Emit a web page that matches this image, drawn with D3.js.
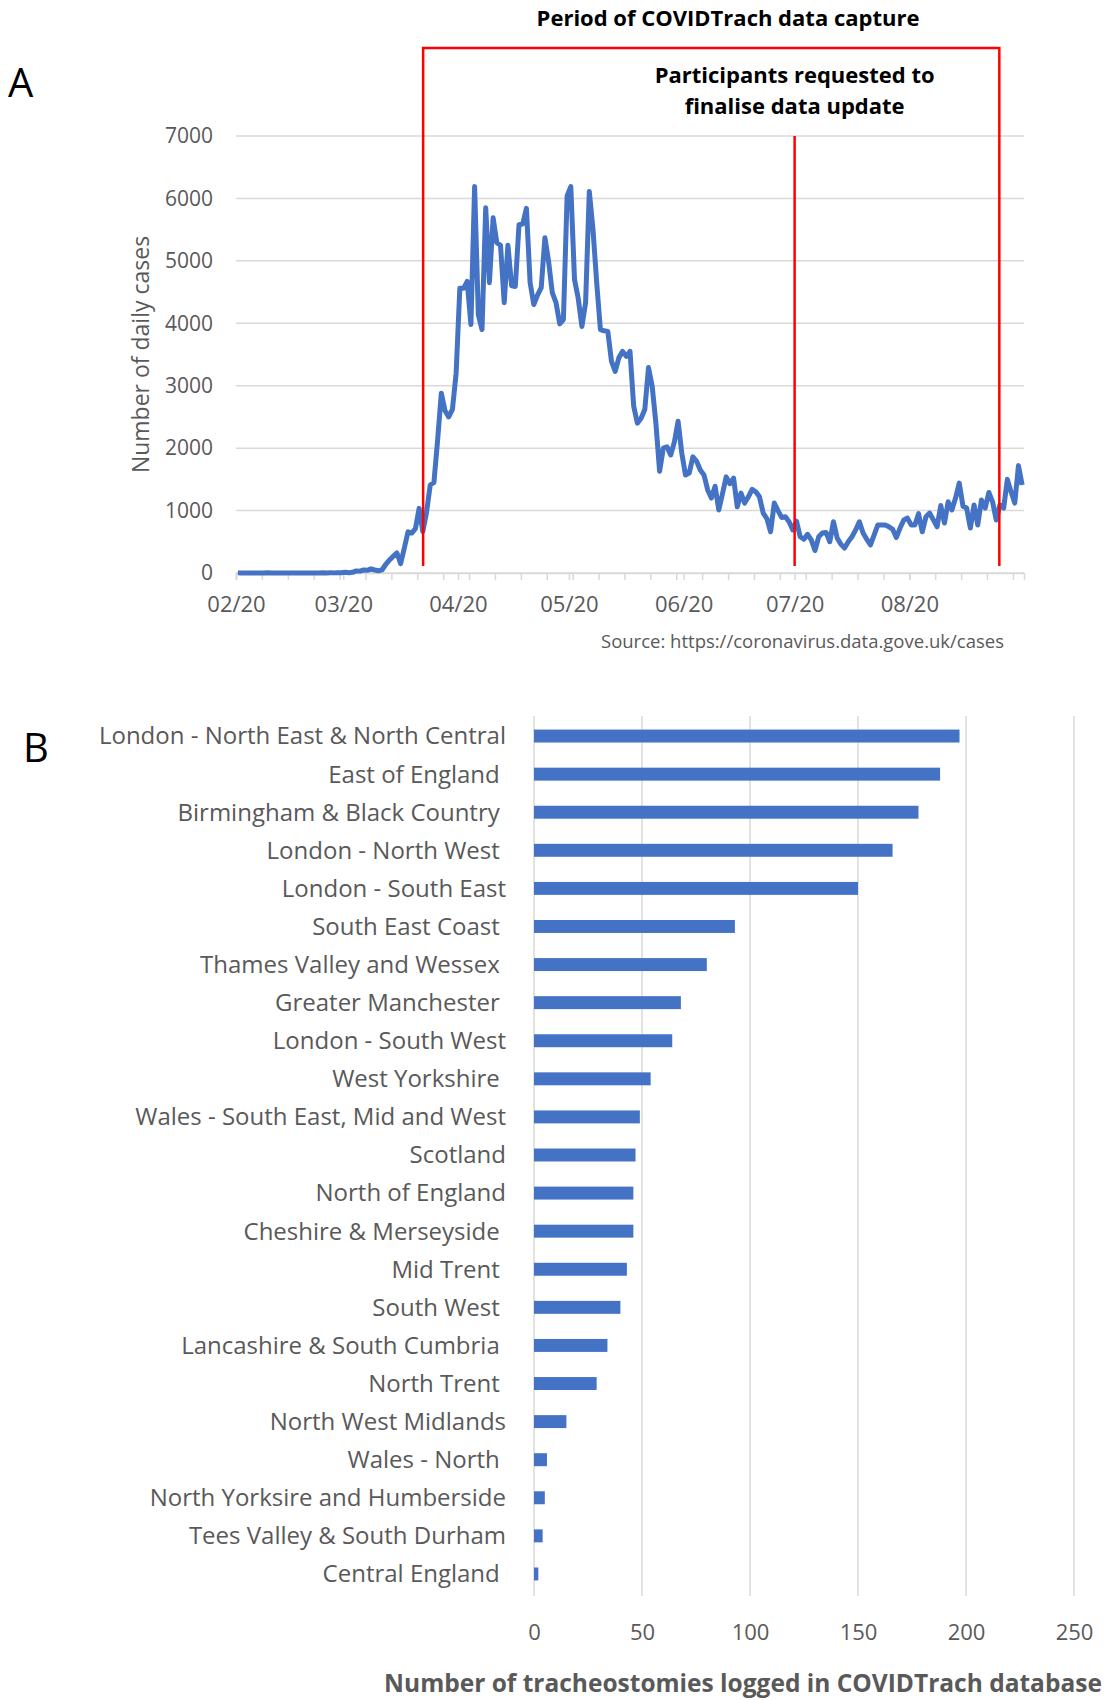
<!DOCTYPE html>
<meta charset="utf-8">
<style>
body { margin: 0; background: #fff; }
text { font-family: "Open Sans", sans-serif; fill: #595959; }
.grid line { stroke: #d9d9d9; stroke-width: 1.5px; }
.axis path, .axis line { stroke: #d9d9d9; stroke-width: 1.5px; }
.axis text { font-family: "Open Sans", sans-serif; fill: #595959; }
.panel { font-size: 40px; fill: #000; }
.note { font-weight: bold; font-size: 22px; fill: #000; text-anchor: middle; }
.marker { stroke: #ff0000; stroke-width: 2.5px; fill: none; }
.cases { fill: none; stroke: #4472c4; stroke-width: 5px; stroke-linejoin: round; }
.bar { fill: #4472c4; }
.region { font-size: 24px; text-anchor: end; white-space: pre; }
</style>
<svg width="1108" height="1700"></svg>
<script src="https://d3js.org/d3.v7.min.js"></script>
<script>

// daily cases (UK, by publish date), one value per day from 1 Feb 2020
var casesFeb = [2,0,0,0,0,1,1,0,4,0,0,0,1,0,0,0,0,0,0,0,0,0,0,4,0,4,2,5,3];
var casesMar = [13,4,11,34,30,48,43,67,48,35,52,140,210,270,320,150,400,660,640,710,1035,665,970,1410,1450,2130,2880,2600,2500,2620,3200];
var casesApr = [4560,4560,4670,3980,6190,4140,3900,5850,4650,5690,5290,5250,4330,5250,4600,4590,5580,5590,5840,4650,4300,4450,4570,5370,4990,4490,4330,3990,4060,6040];
var casesMay = [6190,4700,4400,3950,4330,6110,5500,4650,3900,3880,3870,3390,3230,3450,3550,3470,3550,2670,2400,2480,2620,3290,2990,2400,1630,2000,2020,1890,2100,2430,1920];
var casesJun = [1570,1600,1860,1790,1650,1570,1330,1200,1390,1010,1270,1540,1430,1520,1060,1280,1120,1220,1340,1300,1220,960,870,660,1120,1000,890,900,820,690];
var casesJul = [830,580,540,620,530,360,580,640,650,500,820,560,460,400,500,580,690,820,640,540,450,610,770,770,770,740,700,570,720,850,880];
var casesAug = [770,770,950,660,900,960,850,740,1080,800,1140,1010,1200,1440,1070,1040,720,1090,770,1170,1040,1290,1140,850,1090,1040,1500,1300,1120,1720,1410];

var caseTicks = [0, 1000, 2000, 3000, 4000, 5000, 6000, 7000];
// start of data capture, request to finalise, end of data capture
var markerDates = [new Date(2020, 2, 22, 14), new Date(2020, 6, 1, 0), new Date(2020, 7, 25, 8)];

var regions = [
  "London - North East & North Central",
  "East of England ",
  "Birmingham & Black Country ",
  "London - North West ",
  "London - South East",
  "South East Coast ",
  "Thames Valley and Wessex ",
  "Greater Manchester ",
  "London - South West",
  "West Yorkshire ",
  "Wales - South East, Mid and West",
  "Scotland",
  "North of England",
  "Cheshire & Merseyside ",
  "Mid Trent ",
  "South West ",
  "Lancashire & South Cumbria ",
  "North Trent ",
  "North West Midlands",
  "Wales - North ",
  "North Yorksire and Humberside",
  "Tees Valley & South Durham",
  "Central England "
];
var tracheostomies = [197,188,178,166,150,93,80,68,64,54,49,47,46,46,43,40,34,29,15,6,5,4,2];
var trachTicks = [0, 50, 100, 150, 200, 250];

var svg = d3.select("svg");

// ---------- A: daily cases ----------
var cases = [].concat(casesFeb, casesMar, casesApr, casesMay, casesJun, casesJul, casesAug)
  .map(function(v, i) { return { date: new Date(2020, 1, 1 + i, 12), value: v }; });

var x = d3.scaleTime()
    .domain([new Date(2020, 1, 1), new Date(2020, 8, 1)])
    .range([236, 1024]);
var y = d3.scaleLinear()
    .domain([0, 7000])
    .range([573, 136]);

svg.append("text").attr("class", "panel").attr("x", 8).attr("y", 97).text("A");

svg.append("g").attr("class", "grid")
  .selectAll("line")
  .data(caseTicks)
  .enter().append("line")
    .attr("x1", x.range()[0]).attr("x2", x.range()[1])
    .attr("y1", y).attr("y2", y);

// weekly minor ticks
svg.append("g").attr("class", "axis")
    .attr("transform", "translate(0," + y(0) + ")")
    .call(d3.axisBottom(x)
      .tickValues(d3.timeSaturday.range(x.domain()[0], x.domain()[1]))
      .tickSize(7).tickSizeOuter(7).tickFormat(""));

// month ticks + labels
var monthAxis = svg.append("g").attr("class", "axis")
    .attr("transform", "translate(0," + y(0) + ")")
    .call(d3.axisBottom(x)
      .tickValues(d3.timeMonth.range(x.domain()[0], x.domain()[1]))
      .tickSize(7).tickPadding(16)
      .tickFormat(d3.timeFormat("%m/%y")));
monthAxis.select(".domain").remove();
monthAxis.selectAll("text").style("font-size", "22px");

var yAxis = svg.append("g").attr("class", "axis")
    .attr("transform", "translate(" + x.range()[0] + ",0)")
    .call(d3.axisLeft(y).tickValues(caseTicks).tickFormat(d3.format("d"))
      .tickSize(0).tickPadding(23));
yAxis.select(".domain").remove();
yAxis.selectAll("text").style("font-size", "21px");

svg.append("text")
    .attr("transform", "translate(141," + (y(0) + y(7000)) / 2 + ") rotate(-90)")
    .attr("text-anchor", "middle")
    .attr("dy", "0.35em")
    .style("font-size", "23px")
    .text("Number of daily cases");

var line = d3.line()
    .x(function(d) { return x(d.date); })
    .y(function(d) { return y(d.value); });

svg.append("path")
    .datum(cases)
    .attr("class", "cases")
    .attr("d", line);

// red frame marking the capture period
var boxTop = 48, lineBottom = y(0) - 7;
svg.append("path")
    .attr("class", "marker")
    .attr("d", "M" + x(markerDates[0]) + "," + lineBottom +
               "V" + boxTop + "H" + x(markerDates[2]) + "V" + lineBottom);
svg.append("line")
    .attr("class", "marker")
    .attr("x1", x(markerDates[1])).attr("x2", x(markerDates[1]))
    .attr("y1", y(7000)).attr("y2", lineBottom);

svg.append("text").attr("class", "note").attr("x", 728).attr("y", 26)
    .text("Period of COVIDTrach data capture");
svg.append("text").attr("class", "note").attr("x", x(markerDates[1])).attr("y", 83)
    .text("Participants requested to");
svg.append("text").attr("class", "note").attr("x", x(markerDates[1])).attr("y", 114)
    .text("finalise data update");

svg.append("text")
    .attr("x", 1004).attr("y", 648)
    .attr("text-anchor", "end")
    .style("font-size", "18.5px")
    .text("Source: https://coronavirus.data.gove.uk/cases");

// ---------- B: tracheostomies by region ----------
var xb = d3.scaleLinear()
    .domain([0, 250])
    .range([534, 1074]);
var yb = d3.scaleBand()
    .domain(regions)
    .range([717, 1593])
    .paddingInner(0.66)
    .paddingOuter(0.33);

svg.append("text").attr("class", "panel").attr("x", 23).attr("y", 762).text("B");

svg.append("g").attr("class", "grid")
  .selectAll("line")
  .data(trachTicks)
  .enter().append("line")
    .attr("x1", xb).attr("x2", xb)
    .attr("y1", 716).attr("y2", 1596);

svg.append("g")
  .selectAll("rect")
  .data(tracheostomies)
  .enter().append("rect")
    .attr("class", "bar")
    .attr("x", xb(0))
    .attr("y", function(d, i) { return yb(regions[i]); })
    .attr("width", function(d) { return xb(d) - xb(0); })
    .attr("height", yb.bandwidth());

svg.append("g")
  .selectAll("text")
  .data(regions)
  .enter().append("text")
    .attr("class", "region")
    .attr("x", 506)
    .attr("y", function(d) { return yb(d) + yb.bandwidth() / 2; })
    .attr("dy", "0.35em")
    .text(function(d) { return d; });

var xbAxis = svg.append("g").attr("class", "axis")
    .attr("transform", "translate(0,1596)")
    .call(d3.axisBottom(xb).tickValues(trachTicks).tickSize(0).tickPadding(28));
xbAxis.select(".domain").remove();
xbAxis.selectAll("text").style("font-size", "22px");

svg.append("text")
    .attr("x", 743).attr("y", 1692)
    .attr("text-anchor", "middle")
    .style("font-size", "24.5px")
    .style("font-weight", "bold")
    .text("Number of tracheostomies logged in COVIDTrach database");

</script>
